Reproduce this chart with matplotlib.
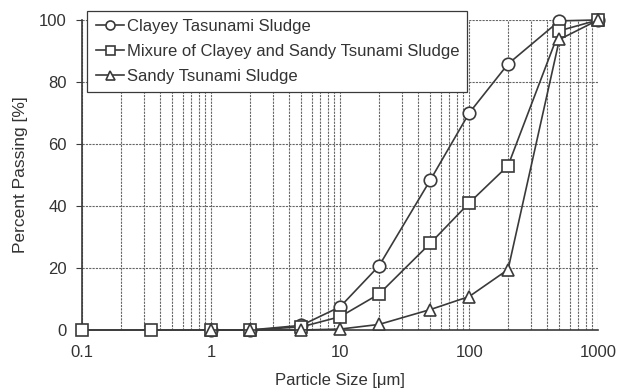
import numpy as np
import matplotlib.pyplot as plt

plt.rcParams['font.family'] = ['Liberation Sans', 'DejaVu Sans']

# particle size (um) and percent passing
size_clayey = [1, 2, 5, 10, 20, 50, 100, 200, 500, 1000]
pass_clayey = [0, 0, 1.5, 7.5, 20.7, 48.4, 70, 85.8, 99.7, 100]

size_mix = [0.1, 0.34, 1, 2, 5, 10, 20, 50, 100, 200, 500, 1000]
pass_mix = [0, 0, 0, 0, 1, 4.3, 11.6, 28, 41, 53, 96.5, 100]

size_sandy = [1, 2, 5, 10, 20, 50, 100, 200, 500, 1000]
pass_sandy = [0, 0, 0, 0.3, 1.8, 6.6, 10.8, 19.5, 93.7, 100]

line_col = '#3a3a3a'

fig = plt.figure(figsize=(6.18, 3.91), dpi=100)
ax = fig.add_axes([0.133, 0.156, 0.835, 0.793])
ax.set_xscale('log')
ax.set_xlim(0.1, 1000)
ax.set_ylim(0, 100)
ax.set_yticks(np.arange(0, 101, 20))
ax.set_xticks([0.1, 1, 10, 100, 1000])
ax.set_xticklabels(['0.1', '1', '10', '100', '1000'])

ax.grid(which='major', axis='both', linestyle=(0, (2, 1)), color='#666666', linewidth=0.8)
ax.grid(which='minor', axis='x', linestyle=(0, (2, 1)), color='#666666', linewidth=0.8)

for s in ['top', 'right']:
    ax.spines[s].set_visible(False)
for s in ['left', 'bottom']:
    ax.spines[s].set_color(line_col)
    ax.spines[s].set_linewidth(1.2)
ax.tick_params(axis='x', which='both', length=0, labelsize=12, colors='#333333', pad=11)
ax.tick_params(axis='y', length=4, color=line_col, labelsize=12, labelcolor='#333333', pad=7)

kw = dict(color=line_col, linewidth=1.2, markerfacecolor='white', markeredgecolor=line_col,
          markeredgewidth=1.2, clip_on=False, zorder=3)
ax.plot(size_clayey, pass_clayey, marker='o', markersize=9, label='Clayey Tasunami Sludge', **kw)
ax.plot(size_mix, pass_mix, marker='s', markersize=9, label='Mixure of Clayey and Sandy Tsunami Sludge', **kw)
ax.plot(size_sandy, pass_sandy, marker='^', markersize=9, label='Sandy Tsunami Sludge', **kw)

ax.set_xlabel('Particle Size [μm]', fontsize=12, color='#333333', labelpad=9)
ax.set_ylabel('Percent Passing [%]', fontsize=12.5, color='#333333', labelpad=8)

leg = ax.legend(loc='upper left', bbox_to_anchor=(0.01, 1.03), fontsize=12, handlelength=1.7,
                handletextpad=0.15, borderpad=0.5, labelspacing=0.6, fancybox=False, framealpha=1,
                edgecolor=line_col, markerscale=0.72, borderaxespad=0)
leg.get_frame().set_linewidth(0.9)
for t in leg.get_texts():
    t.set_color('#333333')

plt.savefig('out.png', dpi=100)
